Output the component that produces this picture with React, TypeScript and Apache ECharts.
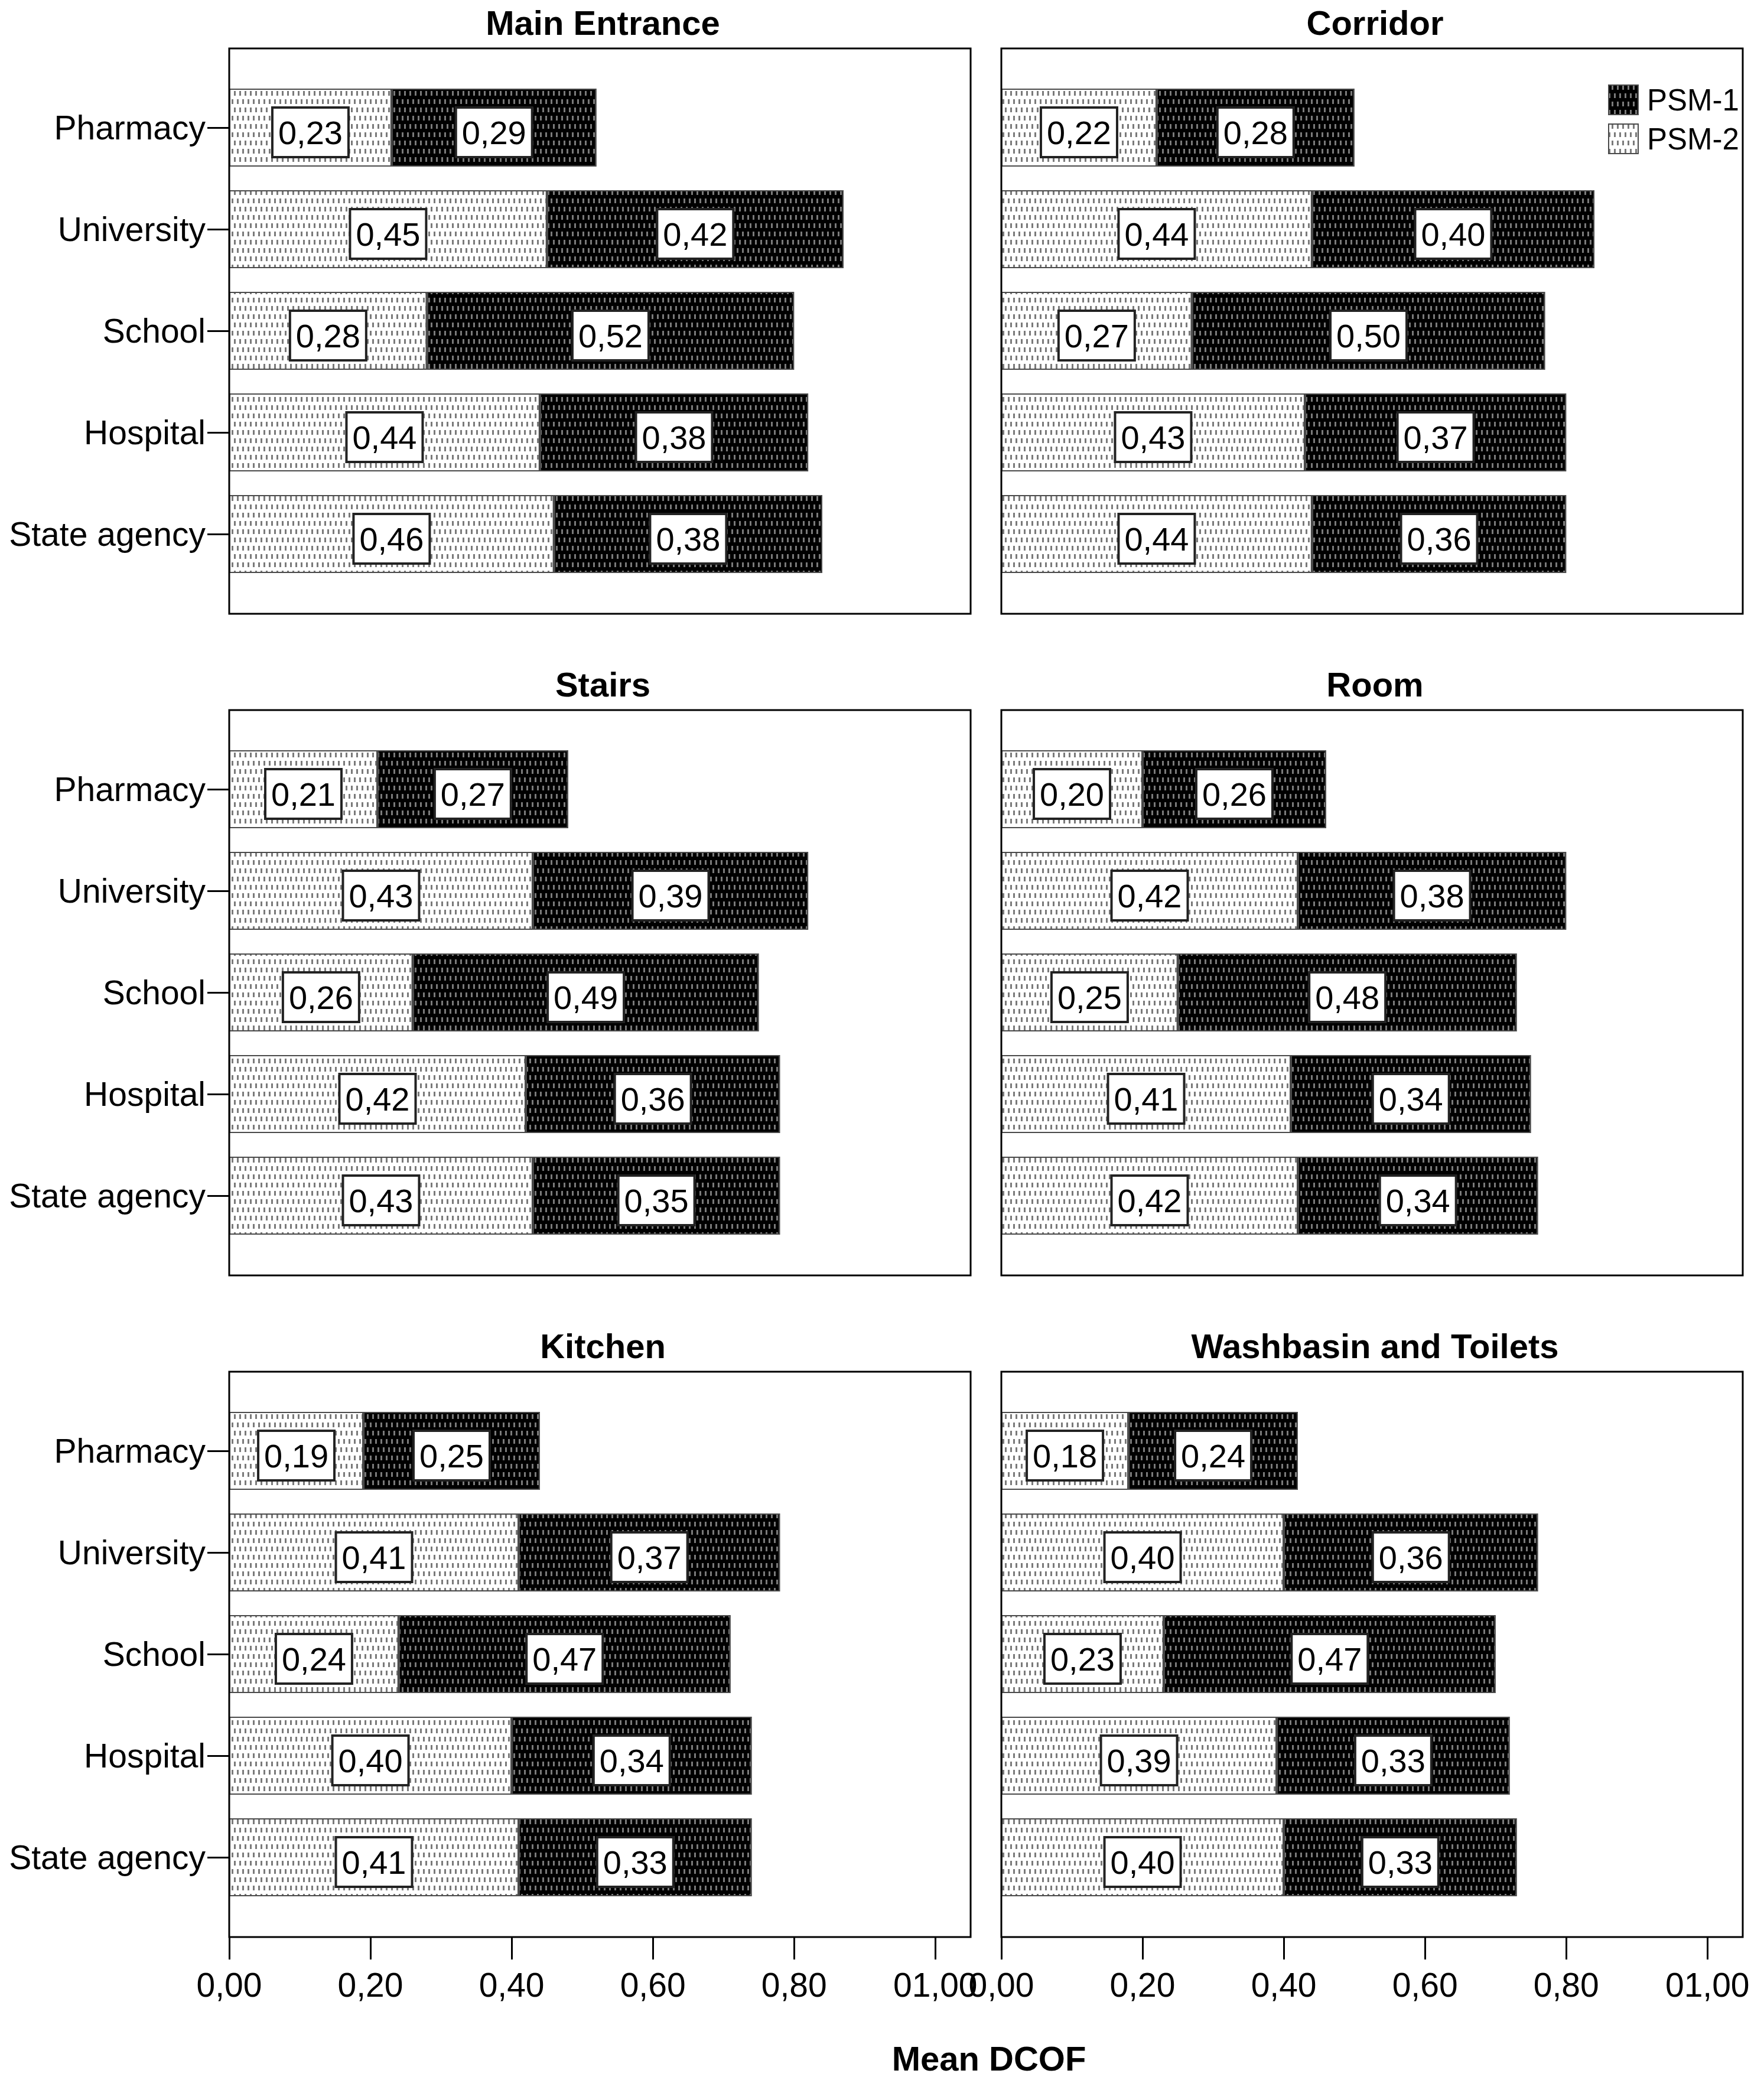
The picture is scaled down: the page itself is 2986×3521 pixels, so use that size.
import React, { useEffect, useRef } from 'react';
import * as echarts from 'echarts';

// categories, top to bottom
const categories = ['Pharmacy', 'University', 'School', 'Hospital', 'State agency'];
const panelTitles = ['Main Entrance', 'Corridor', 'Stairs', 'Room', 'Kitchen', 'Washbasin and Toilets'];

// PSM-2 (light, first segment) per panel
const psm2 = [
  [0.23, 0.45, 0.28, 0.44, 0.46],
  [0.22, 0.44, 0.27, 0.43, 0.44],
  [0.21, 0.43, 0.26, 0.42, 0.43],
  [0.2, 0.42, 0.25, 0.41, 0.42],
  [0.19, 0.41, 0.24, 0.4, 0.41],
  [0.18, 0.4, 0.23, 0.39, 0.4],
];
// PSM-1 (dark, second segment) per panel
const psm1 = [
  [0.29, 0.42, 0.52, 0.38, 0.38],
  [0.28, 0.4, 0.5, 0.37, 0.36],
  [0.27, 0.39, 0.49, 0.36, 0.35],
  [0.26, 0.38, 0.48, 0.34, 0.34],
  [0.25, 0.37, 0.47, 0.34, 0.33],
  [0.24, 0.36, 0.47, 0.33, 0.33],
];

const xTicks = [0, 0.2, 0.4, 0.6, 0.8, 1.0];
const xTickLabels = ['0,00', '0,20', '0,40', '0,60', '0,80', '01,00'];

const FONT = 'Liberation Sans, Arial, sans-serif';

const colLefts = [388, 1695];
const rowTops = [82, 1202, 2322];
const boxW = 1255;
const boxH = 957;
const bandPad = 48;
const bandH = 860;

const fmt = (v: number) => v.toFixed(2).replace('.', ',');

const App: React.FC = () => {
  const chartRef = useRef<HTMLDivElement>(null);

  useEffect(() => {
    if (!chartRef.current) return;
    document.body.style.margin = '0';
    const chart = echarts.init(chartRef.current, undefined, { renderer: 'svg' });

    const grids: any[] = [];
    const xAxes: any[] = [];
    const yAxes: any[] = [];
    const series: any[] = [];
    const titles: any[] = [];
    const frames: any[] = [];

    const decal = {
      symbol: 'rect',
      symbolSize: 1,
      color: '#7a7a7a',
      dashArrayX: [[3, 6], [0, 5, 3, 1]],
      dashArrayY: [8, 6],
      rotation: 0,
    };

    panelTitles.forEach((name, i) => {
      const col = i % 2;
      const row = Math.floor(i / 2);
      const left = colLefts[col];
      const top = rowTops[row];
      const isBottom = row === 2;
      const isLeft = col === 0;

      grids.push({ left, top: top + bandPad, width: boxW, height: bandH });
      frames.push({
        type: 'rect',
        z: 10,
        shape: { x: left, y: top, width: boxW, height: boxH },
        style: { fill: 'none', stroke: '#000', lineWidth: 3 },
      });
      titles.push({
        text: name,
        left: left + boxW / 2,
        top: top - 78,
        textAlign: 'center',
        textStyle: { fontFamily: FONT, fontSize: 58, fontWeight: 'bold', color: '#000' },
      });

      xAxes.push({
        type: 'value',
        gridIndex: i,
        min: 0,
        max: 1.05,
        show: isBottom,
        position: 'bottom',
        offset: boxH - bandPad - bandH,
        splitLine: { show: false },
        axisLine: { show: false },
        axisTick: {
          show: true,
          length: 38,
          customValues: xTicks,
          lineStyle: { color: '#000', width: 3 },
        },
        axisLabel: {
          customValues: xTicks,
          margin: 52,
          fontFamily: FONT,
          fontSize: 57,
          color: '#000',
          formatter: (v: number) => {
            const k = xTicks.findIndex((t) => Math.abs(t - v) < 1e-6);
            return k >= 0 ? xTickLabels[k] : '';
          },
        },
      });

      yAxes.push({
        type: 'category',
        gridIndex: i,
        data: categories,
        inverse: true,
        axisLine: { show: false },
        axisTick: {
          show: isLeft,
          alignWithLabel: true,
          length: 37,
          lineStyle: { color: '#000', width: 3 },
        },
        axisLabel: {
          show: isLeft,
          margin: 40,
          padding: [14, 0, 0, 0],
          fontFamily: FONT,
          fontSize: 57,
          color: '#000',
        },
      });

      const labelStyle = {
        show: true,
        position: 'inside',
        formatter: (p: any) => fmt(p.value),
        fontFamily: FONT,
        fontSize: 56,
        lineHeight: 56,
        color: '#000',
        backgroundColor: '#fff',
        borderColor: '#222',
        borderWidth: 4,
        padding: [12, 8, 12, 8],
        offset: [0, 8],
      };

      series.push({
        name: 'PSM-2',
        type: 'bar',
        xAxisIndex: i,
        yAxisIndex: i,
        stack: 'p' + i,
        barWidth: 132,
        data: psm2[i],
        itemStyle: { color: '#fff', borderColor: '#4a4a4a', borderWidth: 2, decal },
        label: labelStyle,
      });
      series.push({
        name: 'PSM-1',
        type: 'bar',
        xAxisIndex: i,
        yAxisIndex: i,
        stack: 'p' + i,
        barWidth: 132,
        data: psm1[i],
        itemStyle: { color: '#000', borderColor: '#4a4a4a', borderWidth: 2, decal },
        label: labelStyle,
      });
    });

    titles.push({
      text: 'Mean DCOF',
      left: 1669,
      top: 3450,
      textAlign: 'center',
      textStyle: { fontFamily: FONT, fontSize: 58, fontWeight: 'bold', color: '#000' },
    });

    const option = {
      animation: false,
      backgroundColor: '#fff',
      title: titles,
      legend: {
        data: ['PSM-1', 'PSM-2'],
        orient: 'vertical',
        left: 2722,
        top: 143,
        padding: 0,
        itemWidth: 50,
        itemHeight: 50,
        itemGap: 14,
        icon: 'rect',
        selectedMode: false,
        textStyle: { fontFamily: FONT, fontSize: 51, color: '#000', padding: [0, 0, 0, 10] },
      },
      grid: grids,
      xAxis: xAxes,
      yAxis: yAxes,
      series,
      graphic: frames,
    };

    chart.setOption(option);

    return () => {
      chart.dispose();
    };
  }, []);

  return <div ref={chartRef} style={{ width: '2986px', height: '3521px' }} />;
};

export default App;
